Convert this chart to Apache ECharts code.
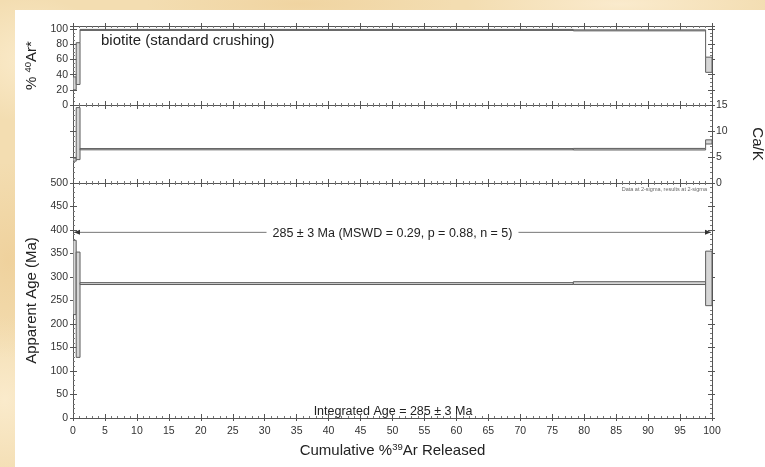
<!DOCTYPE html>
<html>
<head>
<meta charset="utf-8">
<title>Age spectrum</title>
<script src="https://cdn.jsdelivr.net/npm/echarts@6/dist/echarts.min.js"></script>
<style>
  html, body { margin: 0; padding: 0; width: 765px; height: 467px; overflow: hidden; }
  body {
    background-color: #f3ddb1;
    background-image:
      radial-gradient(ellipse 120px 90px at 30px 60px, rgba(252,238,208,0.8), rgba(252,238,208,0) 70%),
      radial-gradient(ellipse 90px 140px at 8px 260px, rgba(236,200,140,0.55), rgba(236,200,140,0) 70%),
      radial-gradient(ellipse 100px 120px at 5px 400px, rgba(252,238,210,0.8), rgba(252,238,210,0) 70%),
      radial-gradient(ellipse 220px 40px at 300px 4px, rgba(238,206,150,0.6), rgba(238,206,150,0) 70%),
      radial-gradient(ellipse 220px 40px at 620px 4px, rgba(252,238,212,0.8), rgba(252,238,212,0) 70%);
  }
  #paper { position: absolute; left: 15px; top: 10px; width: 750px; height: 457px; background: #fff; }
  #chart { position: absolute; left: 0; top: 0; width: 765px; height: 467px; }
</style>
</head>
<body>
<div id="paper"></div>
<div id="chart"></div>
<script>
// ---- step-heating results (cumulative 39Ar edges bound the 5 steps) ----
const stepEdges      = [0, 0.5, 1.1, 78.3, 99.0, 100];
const radiogenicPct  = [28.5, 54.5, 99.0, 98.3, 53.0];
const radiogenicErr  = [8.5, 27.5, 0.5, 0.6, 10.0];
const caKRatio       = [4.5, 9.5, 6.5, 6.5, 7.9];
const caKErr         = [0.3, 5.0, 0.12, 0.15, 0.4];
const apparentAge    = [299, 241, 286, 287, 297];
const apparentAgeErr = [79, 112, 2, 3, 58];

// ---- summary statistics ----
const plateauAge = 285, plateauErr = 3;
const plateauMSWD = 0.29, plateauP = 0.88, plateauN = 5;
const plateauSpan = [0, 100];           // cumulative %39Ar covered by the plateau
const integratedAge = 285, integratedErr = 3;
const sampleName = 'biotite (standard crushing)';

// ---- drawing constants ----
const FONT = '"Liberation Sans", Arial, Helvetica, sans-serif';
const INK = '#222';
const AXIS = '#555';
const plateauBarLevel = 395;            // height (Ma) of the plateau bracket
const radiogenicTop = 104;              // the %40Ar* frame has a little headroom above 100

function stepData(vals, errs) {
  return vals.map((v, i) => {
    const j = i > 0 ? i - 1 : i;
    return [stepEdges[i], stepEdges[i + 1], v - errs[i], v + errs[i],
            vals[j] - errs[j], vals[j] + errs[j]];
  });
}

function renderStep(params, api) {
  const x0 = api.value(0), x1 = api.value(1);
  const lo = api.value(2), hi = api.value(3);
  const pLo = api.value(4), pHi = api.value(5);
  const a = api.coord([x0, hi]), b = api.coord([x1, lo]);
  const children = [{
    type: 'rect',
    shape: { x: a[0], y: a[1], width: b[0] - a[0], height: Math.max(b[1] - a[1], 1) },
    style: { fill: '#d6d6d6', stroke: '#5e5e5e', lineWidth: 1 }
  }];
  let c0 = null, c1 = null;
  if (pHi < lo) { c0 = pHi; c1 = lo; }
  else if (pLo > hi) { c0 = hi; c1 = pLo; }
  if (c0 !== null) {
    const p = api.coord([x0, c0]), q = api.coord([x0, c1]);
    children.push({ type: 'line', shape: { x1: p[0], y1: p[1], x2: q[0], y2: q[1] },
      style: { stroke: '#5e5e5e', lineWidth: 1 } });
  }
  return { type: 'group', children };
}

function renderPlateau(params, api) {
  const a = api.coord([api.value(0), api.value(2)]);
  const b = api.coord([api.value(1), api.value(2)]);
  const y = a[1];
  const mid = (a[0] + b[0]) / 2;
  const txt = plateauAge + ' \u00b1 ' + plateauErr + ' Ma (MSWD = ' + plateauMSWD.toFixed(2) +
              ', p = ' + plateauP.toFixed(2) + ', n = ' + plateauN + ')';
  return {
    type: 'group',
    children: [
      { type: 'line', shape: { x1: a[0] + 1, y1: y, x2: b[0] - 1, y2: y },
        style: { stroke: '#777', lineWidth: 1 } },
      { type: 'polygon', shape: { points: [[a[0] + 1, y], [a[0] + 7, y - 2.5], [a[0] + 7, y + 2.5]] },
        style: { fill: '#333' } },
      { type: 'polygon', shape: { points: [[b[0] - 1, y], [b[0] - 7, y - 2.5], [b[0] - 7, y + 2.5]] },
        style: { fill: '#333' } },
      { type: 'text', x: mid, y: y + 1,
        style: { text: txt, align: 'center', verticalAlign: 'middle', fill: INK,
                 font: '12.5px ' + FONT, backgroundColor: '#fff', padding: [1, 6] } }
    ]
  };
}

const nameStyle = {
  fontSize: 15, color: INK, fontFamily: FONT,
  rich: { sup: { fontSize: 9.5, color: INK, fontFamily: FONT, verticalAlign: 'top', padding: [0, 0, 7, 0] } }
};

function xAxisDef(grid, pos, labels, name) {
  const ax = {
    type: 'value', gridIndex: grid, position: pos, min: 0, max: 100, interval: 5,
    axisLine: { show: true, onZero: false, lineStyle: { color: AXIS, width: 1 } },
    axisTick: { show: true, inside: true, length: 4, lineStyle: { color: AXIS } },
    minorTick: { show: true, splitNumber: 5, length: 2, lineStyle: { color: '#777' } },
    splitLine: { show: false }, minorSplitLine: { show: false },
    axisLabel: { show: labels, fontSize: 10.5, color: '#333', margin: 8, fontFamily: FONT }
  };
  if (name) {
    Object.assign(ax, { name: name, nameLocation: 'middle', nameGap: 24, nameTextStyle: nameStyle });
  }
  return ax;
}

function yAxisDef(grid, pos, min, max, interval, minorSplit, labels, name, rotate, gap) {
  const ax = {
    type: 'value', gridIndex: grid, position: pos, min: min, max: max, interval: interval,
    axisLine: { show: true, onZero: false, lineStyle: { color: AXIS, width: 1 } },
    axisTick: { show: true, inside: true, length: 4, lineStyle: { color: AXIS } },
    minorTick: { show: true, splitNumber: minorSplit, length: 2, lineStyle: { color: '#777' } },
    splitLine: { show: false }, minorSplitLine: { show: false },
    axisLabel: { show: labels, fontSize: 10.5, color: '#333', margin: pos === 'left' ? 5 : 4, fontFamily: FONT,
                 formatter: v => (Math.abs(v / interval - Math.round(v / interval)) < 1e-6 ? String(v) : '') }
  };
  if (name) {
    Object.assign(ax, { name: name, nameLocation: 'middle', nameGap: gap, nameRotate: rotate, nameTextStyle: nameStyle });
  }
  return ax;
}

// a bare copy of an axis that only adds short outward major ticks
function outwardTicks(ax) {
  return {
    type: 'value', gridIndex: ax.gridIndex, position: ax.position,
    min: ax.min, max: ax.max, interval: ax.interval,
    axisLine: { show: false, onZero: false },
    axisTick: { show: true, inside: false, length: 3, lineStyle: { color: AXIS } },
    minorTick: { show: false }, splitLine: { show: false },
    axisLabel: { show: false }
  };
}

const chart = echarts.init(document.getElementById('chart'), null, { renderer: 'canvas' });

const gridBase = { left: 73, right: 53, outerBoundsMode: 'none', containLabel: false };

const xAxes = [
  xAxisDef(0, 'bottom', false), xAxisDef(0, 'top', false),
  xAxisDef(1, 'bottom', false), xAxisDef(1, 'top', false),
  xAxisDef(2, 'bottom', true, 'Cumulative %{sup|39}Ar Released'), xAxisDef(2, 'top', false)
];
const yAxes = [
  yAxisDef(0, 'left', 0, radiogenicTop, 20, 4, true, '% {sup|40}Ar*', 90, 32),
  yAxisDef(0, 'right', 0, radiogenicTop, 20, 4, false),
  yAxisDef(1, 'right', 0, 15, 5, 5, true, 'Ca/K', -90, 38),
  yAxisDef(1, 'left', 0, 15, 5, 5, false),
  yAxisDef(2, 'left', 0, 500, 50, 5, true, 'Apparent Age (Ma)', 90, 33),
  yAxisDef(2, 'right', 0, 500, 50, 5, false)
];

chart.setOption({
  backgroundColor: 'transparent',
  animation: false,
  grid: [
    Object.assign({ top: 26, height: 79 }, gridBase),
    Object.assign({ top: 105, height: 78 }, gridBase),
    Object.assign({ top: 183, height: 235 }, gridBase)
  ],
  xAxis: xAxes.concat(xAxes.map(outwardTicks)),
  yAxis: yAxes.concat(yAxes.map(outwardTicks)),
  series: [
    { type: 'custom', name: '%40Ar*', xAxisIndex: 0, yAxisIndex: 0,
      data: stepData(radiogenicPct, radiogenicErr), renderItem: renderStep,
      encode: { x: [0, 1], y: [2, 3] }, clip: true },
    { type: 'custom', name: 'Ca/K', xAxisIndex: 2, yAxisIndex: 2,
      data: stepData(caKRatio, caKErr), renderItem: renderStep,
      encode: { x: [0, 1], y: [2, 3] }, clip: true },
    { type: 'custom', name: 'Apparent age', xAxisIndex: 4, yAxisIndex: 4,
      data: stepData(apparentAge, apparentAgeErr), renderItem: renderStep,
      encode: { x: [0, 1], y: [2, 3] }, clip: true },
    { type: 'custom', name: 'Plateau', xAxisIndex: 4, yAxisIndex: 4,
      data: [[plateauSpan[0], plateauSpan[1], plateauBarLevel]], renderItem: renderPlateau,
      encode: { x: [0, 1], y: 2 }, z: 3 }
  ],
  graphic: [
    { type: 'text', left: 101, top: 33, silent: true,
      style: { text: sampleName, fill: INK, font: '15px ' + FONT } },
    { type: 'text', x: 393, y: 412, silent: true,
      style: { text: 'Integrated Age = ' + integratedAge + ' \u00b1 ' + integratedErr + ' Ma',
               fill: INK, font: '12.5px ' + FONT, textAlign: 'center', textVerticalAlign: 'middle' } },
    { type: 'text', x: 707, y: 189, silent: true,
      style: { text: 'Data at 2-sigma, results at 2-sigma', fill: '#666',
               font: '5.5px ' + FONT, textAlign: 'right', textVerticalAlign: 'middle' } }
  ]
});
</script>
</body>
</html>
